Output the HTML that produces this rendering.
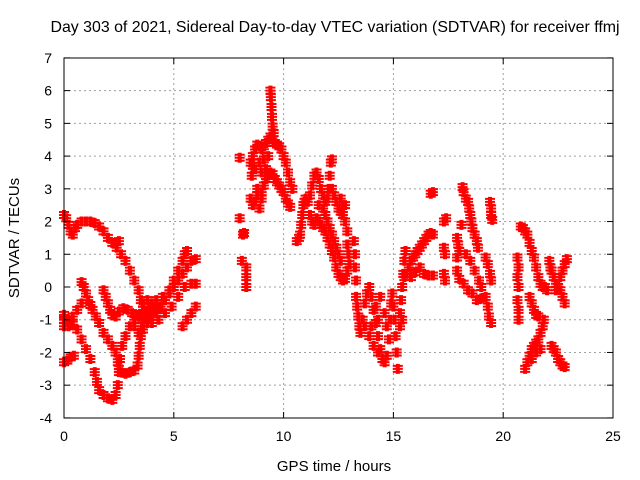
<!DOCTYPE html>
<html><head><meta charset="utf-8"><style>
body{margin:0;background:#fff}
svg{display:block;font-family:"Liberation Sans",sans-serif}
</style></head><body>
<svg id="chart" width="640" height="480" viewBox="0 0 640 480">
<rect width="640" height="480" fill="#fff"/>
<text x="335" y="32" font-size="15.9" text-anchor="middle">Day 303 of 2021, Sidereal Day-to-day VTEC variation (SDTVAR) for receiver ffmj</text>
<text x="334" y="471" font-size="15" text-anchor="middle">GPS time / hours</text>
<text transform="translate(19,238) rotate(-90)" font-size="15" text-anchor="middle">SDTVAR / TECUs</text>
<g id="grid"></g>
<g id="marks"></g>
<rect x="64" y="58" width="549" height="360" fill="none" stroke="#000" stroke-width="1"/>
<g id="ticks"></g>
</svg>
<script>
const xTicks=[0,5,10,15,20,25];
const yTicks=[-4,-3,-2,-1,0,1,2,3,4,5,6,7];
const morning=[[0,2.2],[0.1,2.1],[0.2,1.9],[0.3,1.7],[0.4,1.6],[0.5,1.8],[0.6,1.9],[0.8,2.0],[1.0,2.0],[1.2,2.0],[1.4,1.95],[1.6,1.85],[1.8,1.7],[2.0,1.5],[2.2,1.35],[2.4,1.2],[2.5,1.4],[2.6,1.0],[2.8,0.8],[3.0,0.5],[3.2,0.2],[3.4,-0.1],[3.5,-0.4],[3.6,-0.7],[3.7,-0.9],
[0.8,0.15],[0.9,0],[1.0,-0.2],[1.1,-0.4],[1.2,-0.55],[1.3,-0.7],[1.45,-0.9],[1.6,-1.1],[1.8,-1.4],[2.0,-1.6],[2.2,-1.8],[2.35,-2.0],[2.45,-2.3],[2.5,-2.5],[2.6,-2.6],[2.8,-2.65],[3.0,-2.6],[3.2,-2.55],[3.35,-2.4],[3.4,-2.1],[3.45,-1.8],[3.5,-1.5],[3.55,-1.2],[3.6,-1.0],
[0,-1.0],[0.2,-1.05],[0.4,-1.15],[0.6,-1.3],[0.8,-1.6],[1.0,-1.9],[1.2,-2.2],[1.4,-2.6],[1.5,-2.9],[1.6,-3.15],[1.8,-3.3],[2.0,-3.4],[2.2,-3.45],[2.35,-3.3],[2.45,-3.0],[2.5,-2.6],[2.55,-2.2],[2.65,-1.8],[2.8,-1.5],[3.0,-1.2],[3.2,-1.0],[3.4,-0.9],
[1.8,-0.1],[1.9,-0.3],[2.0,-0.5],[2.1,-0.7],[2.2,-0.85],[2.35,-0.9],[2.5,-0.75],[2.7,-0.65],[2.9,-0.7],[3.1,-0.8],[3.3,-0.85],[3.5,-0.85],[3.7,-0.8],[3.9,-0.75],[4.1,-0.7],[4.3,-0.65],
[0,-2.3],[0.15,-2.25],[0.3,-2.15],[0.45,-2.1],
[0,-0.85],[0.2,-1.0],[0.4,-0.9],[0.6,-0.7],[0.8,-0.5],[0,-1.2],[0.2,-1.2],
[3.6,-1.0],[3.8,-0.95],[4.0,-0.9],[4.2,-0.8],[4.4,-0.6],[4.6,-0.4],[4.8,-0.1],[5.0,0.2],[5.2,0.5],[5.4,0.8],[5.5,1.0],[5.6,1.1],
[3.9,-0.6],[4.2,-0.5],[4.5,-0.3],[4.8,-0.2],[5.0,0],[5.2,0.2],[5.4,0.4],[5.6,0.6],[5.8,0.8],[6.0,0.85],
[4.0,-1.1],[4.3,-1.0],[4.6,-0.8],[4.9,-0.6],[5.2,-0.3],[5.5,0],[5.8,0.1],[6.0,0.1],
[5.4,-1.2],[5.6,-1.0],[5.8,-0.8],[6.0,-0.6],
[3.2,-1.2],[3.4,-1.4],[3.6,-1.3],[3.8,-1.1],[3.6,-0.5],[3.8,-0.4],[4.0,-0.5],[4.2,-0.4]];
const midday=[[8.0,3.95],[8.0,2.1],[8.15,1.6],[8.2,1.65],[8.1,0.8],[8.3,0.6],[8.3,0.3],[8.3,0.0],
[8.5,3.8],[8.6,4.0],[8.7,4.2],[8.8,4.35],[8.9,4.3],[9.0,4.2],[9.1,4.3],[9.2,4.4],[9.3,4.5],[9.4,4.6],[9.5,4.5],[9.6,4.4],[9.7,4.35],[9.8,4.3],[9.9,4.2],[10.0,4.0],[10.1,3.8],[10.2,3.5],[10.3,3.2],[10.4,3.0],
[9.4,6.0],[9.42,5.8],[9.45,5.5],[9.47,5.2],[9.5,4.9],[9.55,4.7],
[8.7,3.6],[8.9,3.8],[9.1,3.9],[9.3,4.0],[9.0,3.5],[9.2,3.6],[8.8,3.0],[9.0,2.7],[8.7,2.6],[8.9,2.4],[8.6,2.5],[8.5,2.7],[8.8,2.8],[8.6,3.7],[8.55,3.4],
[9.0,2.9],[9.1,3.1],[9.2,3.3],[9.3,3.4],[9.4,3.5],[9.5,3.45],[9.6,3.3],[9.7,3.2],[9.8,3.1],[9.9,3.0],[10.0,2.9],[10.1,2.7],[10.2,2.55],[10.3,2.45],
[10.6,1.4],[10.7,1.5],[10.75,1.6],[10.8,1.9],[10.85,2.2],[10.9,2.5],[10.95,2.6],[11.0,2.7],
[11.1,2.6],[11.2,2.8],[11.3,3.1],[11.4,3.4],[11.5,3.5],[11.6,3.3],[11.7,3.0],[11.8,2.8],[11.9,2.6],[12.0,2.7],[12.05,3.0],[12.1,3.4],[12.15,3.8],[12.2,3.9],
[11.2,2.2],[11.3,2.0],[11.4,1.9],[11.5,2.1],[11.6,2.0],[11.7,1.9],[11.8,1.8],[11.9,1.7],[12.0,1.5],[12.1,1.3],[12.2,1.1],[12.3,0.9],[12.4,0.6],[12.5,0.4],[12.6,0.3],[12.7,0.2],[12.8,0.25],
[12.2,3.0],[12.3,2.8],[12.4,2.6],[12.5,2.4],[12.6,2.3],[12.7,2.2],[12.8,2.0],[12.9,1.7],[12.9,1.3],[12.95,1.0],[13.0,0.7],[12.9,0.5],
[11.6,2.5],[11.8,2.4],[11.9,2.2],[12.0,2.0],[12.1,1.8],[12.2,1.6],[12.3,1.4],[12.4,1.2],[12.5,1.0],[12.6,0.8],[12.6,2.7],[12.7,2.5],[12.8,2.5],
[13.2,1.4],[13.25,1.0],[13.25,0.6],[13.3,0.2]];
const afternoon=[[13.3,-0.3],[13.35,-0.6],[13.4,-0.9],[13.45,-1.2],[13.5,-1.4],[13.6,-1.0],[13.7,-0.5],[13.8,-0.2],[13.9,0.0],[14.0,-0.3],[14.1,-0.7],[14.2,-1.1],[14.3,-1.5],[14.4,-1.9],[14.5,-2.2],[14.6,-2.3],[14.7,-2.1],[14.8,-1.6],[14.85,-1.0],[14.9,-0.5],[14.95,-0.2],[15.0,-0.6],[15.05,-1.0],[15.1,-1.5],[15.15,-2.0],[15.2,-2.5],
[13.7,-1.2],[13.9,-1.5],[14.0,-1.2],[14.2,-0.6],[14.4,-0.3],[14.6,-0.8],[14.7,-1.2],[14.3,-1.0],[14.1,-1.8],[14.3,-2.0],[15.3,-0.8],[15.35,-0.4],[15.4,0.0],[15.45,0.4],[15.5,0.8],[15.55,1.1],[15.3,-1.2],[15.4,-1.0],
[15.5,0.3],[15.6,0.4],[15.7,0.6],[15.8,0.8],[15.9,0.9],[16.0,1.0],[16.1,1.1],[16.2,1.2],[16.3,1.3],[16.4,1.4],[16.5,1.5],[16.6,1.6],[16.7,1.65],[16.8,1.6],
[15.8,0.3],[16.0,0.45],[16.2,0.6],[16.4,0.4],[16.6,0.35],[16.8,0.35],
[16.7,2.85],[16.8,2.9],
[17.3,2.0],[17.4,2.1],[17.3,1.2],[17.35,1.0],[17.3,0.4],[17.35,0.2],
[18.15,3.05],[18.2,2.9],[18.3,2.7],[18.4,2.6],[18.45,2.4],[18.5,2.2],[18.55,2.0],[18.6,1.8],[18.7,1.6],[18.8,1.4],[18.85,1.2],
[19.4,2.6],[19.45,2.4],[19.45,2.2],[19.5,2.05],
[17.9,1.5],[17.95,1.3],[18.0,1.1],[17.9,0.9],[17.9,0.5],[18.0,0.25],[18.2,0.1],[18.4,-0.1],[18.6,-0.2],[18.8,-0.4],[19.0,-0.35],[19.2,-0.3],[19.3,-0.6],[19.35,-0.9],[19.45,-1.1],
[18.3,1.0],[18.5,0.8],[18.7,0.5],[18.9,0.2],[19.0,0.0],[19.2,0.9],[19.3,0.7],[19.4,0.4],[19.45,0.2],[18.1,1.9]];
const evening=[[20.8,1.85],[20.9,1.8],[21.0,1.7],[21.1,1.6],[21.2,1.35],[21.3,1.1],[21.4,0.9],[21.5,0.6],[21.6,0.3],[21.7,0.1],[21.8,0.0],[21.9,0.0],[22.0,-0.1],
[20.65,0.9],[20.7,0.6],[20.65,0.3],[20.7,0.0],[20.65,-0.4],[20.7,-0.7],[20.7,-1.0],
[21.2,-0.3],[21.3,-0.5],[21.4,-0.7],[21.5,-0.85],[21.6,-0.9],
[21.0,-2.5],[21.1,-2.3],[21.2,-2.1],[21.3,-1.9],[21.4,-1.8],[21.5,-1.7],[21.6,-1.6],[21.7,-1.4],[21.8,-1.2],[21.85,-1.0],[21.3,-2.2],[21.5,-2.0],[21.7,-1.9],
[22.2,-1.8],[22.3,-1.9],[22.4,-2.0],[22.5,-2.2],[22.6,-2.3],[22.7,-2.4],[22.8,-2.45],
[22.1,0.8],[22.15,0.6],[22.2,0.5],[22.3,0.3],[22.4,0.1],[22.5,0.0],[22.6,-0.1],[22.7,-0.3],[22.8,-0.5],[22.6,0.3],[22.7,0.5],[22.8,0.7],[22.9,0.85],[22.4,-0.1]];

const NS='http://www.w3.org/2000/svg';
function xs(t){return 64+t*(549/25);}
function ys(v){return 287-v*(360/11);}
const grid=document.getElementById('grid'),ticks=document.getElementById('ticks'),marks=document.getElementById('marks');
function mk(tag,attrs,parent){const e=document.createElementNS(NS,tag);for(const k in attrs)e.setAttribute(k,attrs[k]);parent.appendChild(e);return e;}
xTicks.forEach(t=>{
  const x=xs(t);
  if(t>0&&t<25){const g=mk('line',{x1:x,y1:58,x2:x,y2:418,stroke:'#a0a0a0','stroke-dasharray':'2,3'},grid);
  
  }
  mk('line',{x1:x,y1:418,x2:x,y2:412,stroke:'#000'},ticks);
  mk('line',{x1:x,y1:58,x2:x,y2:64,stroke:'#000'},ticks);
  const l=mk('text',{x:x,y:441,'font-size':14,'text-anchor':'middle'},ticks);
  l.textContent=t;
  
  
});
yTicks.forEach(v=>{
  const y=ys(v);
  if(v>-4&&v<7){const g=mk('line',{x1:64,y1:y,x2:613,y2:y,stroke:'#a0a0a0','stroke-dasharray':'2,3'},grid);
  
  }
  mk('line',{x1:64,y1:y,x2:70,y2:y,stroke:'#000'},ticks);
  mk('line',{x1:613,y1:y,x2:607,y2:y,stroke:'#000'},ticks);
  const l=mk('text',{x:52,y:y+5,'font-size':14,'text-anchor':'end'},ticks);
  l.textContent=v;
  
  
});
[morning,midday,afternoon,evening].forEach(series=>{
  series.forEach(p=>{
    const x=xs(p[0]),y=ys(p[1]);
    const m=mk('path',{d:`M${x-5},${y}H${x+5}M${x-1},${y-5}V${y+5}M${x+1},${y-5}V${y+5}M${x-5},${y+3}H${x+5}M${x-5},${y-3}H${x+5}`,stroke:'#ff0000','stroke-width':2,fill:'none'},marks);
    
    
  });
});
</script>
</body></html>
